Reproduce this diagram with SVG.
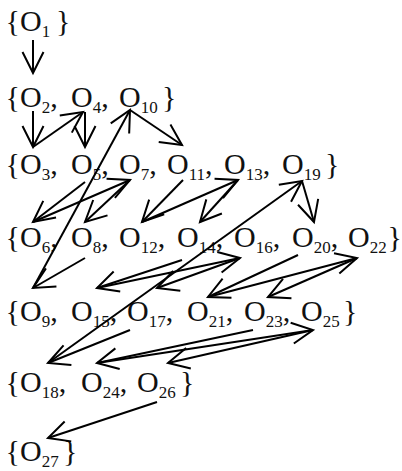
<svg xmlns="http://www.w3.org/2000/svg" width="402" height="471" viewBox="0 0 402 471">
<style>
.t{font-family:"Liberation Serif","Times New Roman",serif;font-size:30px;fill:#111}
.b{text-anchor:end}
.s{font-size:17px}
.c line{stroke:#000;stroke-width:2;fill:none;marker-end:url(#ah)}
</style>
<defs>
<marker id="ah" markerUnits="userSpaceOnUse" orient="auto" markerWidth="30" markerHeight="30" viewBox="-26 -14 30 28" refX="0" refY="0" overflow="visible">
<path d="M-21,-10.5 L0,0 L-21,10.5" fill="none" stroke="#000" stroke-width="2" stroke-linejoin="miter"/>
</marker>
</defs>
<rect width="402" height="471" fill="#fff"/>
<g id="set1" class="t">
<text class="b" x="20" y="31">{</text>
<g id="O1"><text x="20" y="31">O<tspan class="s" dy="6">1</tspan></text></g>
<text x="56" y="31">}</text>
</g>
<g id="set2" class="t">
<text class="b" x="20" y="107">{</text>
<g id="O2"><text x="20" y="107">O<tspan class="s" dy="6">2</tspan><tspan dy="-6">,</tspan></text></g>
<g id="O4"><text x="71" y="107">O<tspan class="s" dy="6">4</tspan><tspan dy="-6">,</tspan></text></g>
<g id="O10"><text x="119" y="107">O<tspan class="s" dy="6">10</tspan></text></g>
<text x="162" y="107">}</text>
</g>
<g id="set3" class="t">
<text class="b" x="20" y="174">{</text>
<g id="O3"><text x="20" y="174">O<tspan class="s" dy="6">3</tspan><tspan dy="-6">,</tspan></text></g>
<g id="O5"><text x="71" y="174">O<tspan class="s" dy="6">5</tspan><tspan dy="-6">,</tspan></text></g>
<g id="O7"><text x="119" y="174">O<tspan class="s" dy="6">7</tspan><tspan dy="-6">,</tspan></text></g>
<g id="O11"><text x="167" y="174">O<tspan class="s" dy="6">11</tspan><tspan dy="-6">,</tspan></text></g>
<g id="O13"><text x="224" y="174">O<tspan class="s" dy="6">13</tspan><tspan dy="-6">,</tspan></text></g>
<g id="O19"><text x="282" y="174">O<tspan class="s" dy="6">19</tspan></text></g>
<text x="325" y="174">}</text>
</g>
<g id="set4" class="t">
<text class="b" x="20" y="247">{</text>
<g id="O6"><text x="20" y="247">O<tspan class="s" dy="6">6</tspan><tspan dy="-6">,</tspan></text></g>
<g id="O8"><text x="71" y="247">O<tspan class="s" dy="6">8</tspan><tspan dy="-6">,</tspan></text></g>
<g id="O12"><text x="119" y="247">O<tspan class="s" dy="6">12</tspan><tspan dy="-6">,</tspan></text></g>
<g id="O14"><text x="177" y="247">O<tspan class="s" dy="6">14</tspan><tspan dy="-6">,</tspan></text></g>
<g id="O16"><text x="234" y="247">O<tspan class="s" dy="6">16</tspan><tspan dy="-6">,</tspan></text></g>
<g id="O20"><text x="292" y="247">O<tspan class="s" dy="6">20</tspan><tspan dy="-6">,</tspan></text></g>
<g id="O22"><text x="348" y="247">O<tspan class="s" dy="6">22</tspan></text></g>
<text class="b" x="402" y="247">}</text>
</g>
<g id="set5" class="t">
<text class="b" x="20" y="321">{</text>
<g id="O9"><text x="20" y="321">O<tspan class="s" dy="6">9</tspan><tspan dy="-6">,</tspan></text></g>
<g id="O15"><text x="71" y="321">O<tspan class="s" dy="6">15</tspan><tspan dy="-6">,</tspan></text></g>
<g id="O17"><text x="127" y="321">O<tspan class="s" dy="6">17</tspan><tspan dy="-6">,</tspan></text></g>
<g id="O21"><text x="187" y="321">O<tspan class="s" dy="6">21</tspan><tspan dy="-6">,</tspan></text></g>
<g id="O23"><text x="244" y="321">O<tspan class="s" dy="6">23</tspan><tspan dy="-6">,</tspan></text></g>
<g id="O25"><text x="301" y="321">O<tspan class="s" dy="6">25</tspan></text></g>
<text x="343" y="321">}</text>
</g>
<g id="set6" class="t">
<text class="b" x="20" y="392">{</text>
<g id="O18"><text x="20" y="392">O<tspan class="s" dy="6">18</tspan><tspan dy="-6">,</tspan></text></g>
<g id="O24"><text x="81" y="392">O<tspan class="s" dy="6">24</tspan><tspan dy="-6">,</tspan></text></g>
<g id="O26"><text x="137" y="392">O<tspan class="s" dy="6">26</tspan></text></g>
<text x="180" y="392">}</text>
</g>
<g id="set7" class="t">
<text class="b" x="20" y="461">{</text>
<g id="O27"><text x="20" y="461">O<tspan class="s" dy="6">27</tspan></text></g>
<text x="63" y="461">}</text>
</g>
<g id="connectors" class="c">
<line x1="33" y1="40" x2="33" y2="73"/>
<line x1="33" y1="111" x2="33" y2="147"/>
<line x1="33" y1="147" x2="83" y2="112"/>
<line x1="85" y1="112" x2="85" y2="147"/>
<line x1="85" y1="182" x2="33" y2="222"/>
<line x1="33" y1="222" x2="130" y2="180"/>
<line x1="130" y1="180" x2="85" y2="222"/>
<line x1="85" y1="258" x2="33" y2="288"/>
<line x1="33" y1="288" x2="130" y2="110"/>
<line x1="130" y1="110" x2="182" y2="145"/>
<line x1="183" y1="180" x2="142" y2="222"/>
<line x1="142" y1="222" x2="238" y2="180"/>
<line x1="238" y1="180" x2="200" y2="222"/>
<line x1="182" y1="260" x2="97" y2="288"/>
<line x1="97" y1="288" x2="240" y2="258"/>
<line x1="240" y1="258" x2="157" y2="288"/>
<line x1="130" y1="330" x2="48" y2="363"/>
<line x1="48" y1="363" x2="302" y2="181"/>
<line x1="302" y1="181" x2="314" y2="222"/>
<line x1="298" y1="255" x2="208" y2="297"/>
<line x1="208" y1="297" x2="357" y2="258"/>
<line x1="357" y1="258" x2="268" y2="297"/>
<line x1="253" y1="330" x2="97" y2="363"/>
<line x1="97" y1="363" x2="313" y2="330"/>
<line x1="313" y1="330" x2="168" y2="363"/>
<line x1="157" y1="402" x2="48" y2="438"/>
</g>
</svg>
